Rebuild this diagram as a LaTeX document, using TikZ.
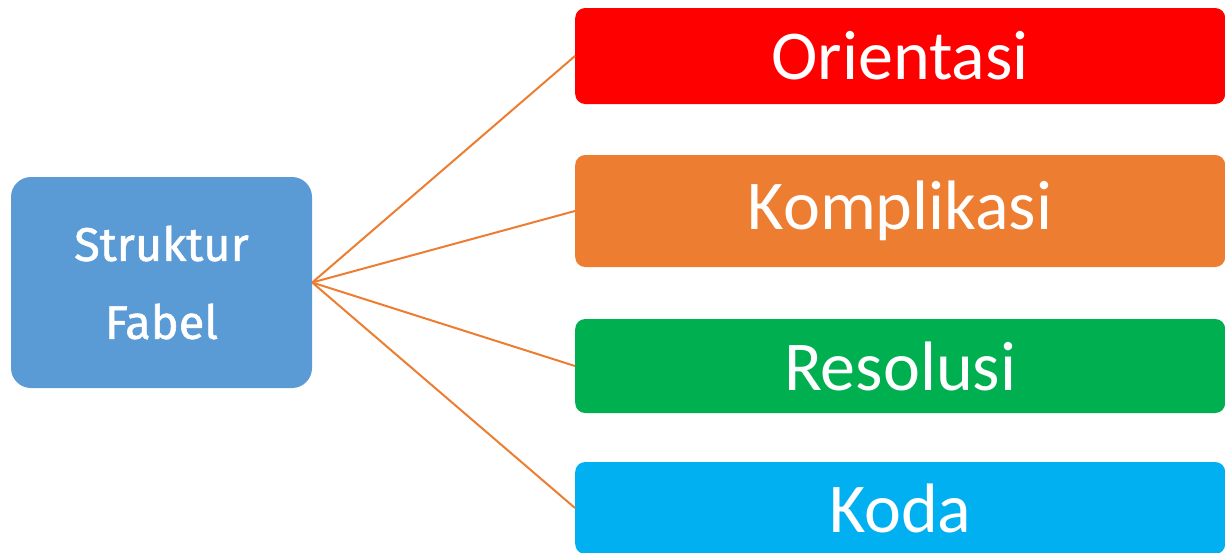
\documentclass[tikz,border=0pt]{standalone}
\usepackage{fontspec}
\setmainfont{Carlito}
\newfontfamily\rootfont[FakeBold=1.2]{Fira Sans}
\usetikzlibrary{positioning}
\definecolor{fabelblue}{HTML}{5B9BD5}
\definecolor{linkorange}{HTML}{ED7D31}
\definecolor{orired}{HTML}{FF0000}
\definecolor{komporange}{HTML}{ED7D31}
\definecolor{resgreen}{HTML}{00B050}
\definecolor{kodacyan}{HTML}{00B0F0}

\begin{document}
\begin{tikzpicture}[
  x=1pt, y=-1pt,
  root/.style={fill=fabelblue, rounded corners=20pt, minimum width=301pt,
               minimum height=211pt, align=center, text=white,
               font=\rootfont\fontsize{47}{78}\selectfont},
  part/.style={rounded corners=10pt, minimum width=650pt, anchor=west,
               inner sep=0pt, text=white, font=\fontsize{70}{84}\selectfont},
  link/.style={draw=linkorange, line width=2pt}
]
\useasboundingbox (0,0) rectangle (1225,552);

\node[root] (fabel) at (161.5,282.5) {Struktur\\Fabel};

\node[part, fill=orired, minimum height=96pt] (orientasi) at (575,56) {Orientasi};
\node[part, fill=komporange, minimum height=112pt] (komplikasi) at (575,211) {Komplikasi};
\node[part, fill=resgreen, minimum height=94pt] (resolusi) at (575,366) {Resolusi};
\node[part, fill=kodacyan, minimum height=92pt] (koda) at (575,508) {Koda};

\foreach \n in {orientasi,komplikasi,resolusi,koda}
  \draw[link] (fabel.east) -- (\n.west);

\end{tikzpicture}
\end{document}
